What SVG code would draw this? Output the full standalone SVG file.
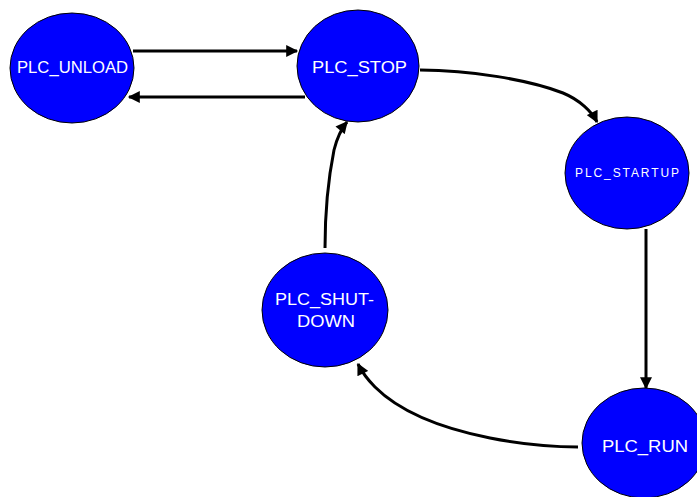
<svg xmlns="http://www.w3.org/2000/svg" width="697" height="497" viewBox="0 0 697 497">
<style>
.n{fill:#0000ff;stroke:#000;stroke-width:1}
.t{fill:#fff;font-family:"Liberation Sans",Arial,sans-serif;font-size:16px;text-anchor:middle}
.e{fill:none;stroke:#000;stroke-width:3;marker-end:url(#ah)}
</style>
<defs>
<marker id="ah" viewBox="0 0 10 10" refX="9" refY="5" markerWidth="4.5" markerHeight="4" markerUnits="strokeWidth" orient="auto">
<path d="M0,0 L10,5 L0,10 z" fill="#000"/>
</marker>
</defs>
<rect width="697" height="497" fill="#fff"/>
<g id="edges">
<path class="e" d="M133,51 L297,51"/>
<path class="e" d="M305,97 L129,97"/>
<path class="e" d="M420,70 C470,70 530,80 563,93 C580,100 592,112 597,122"/>
<path class="e" d="M646,229 L646,388"/>
<path class="e" d="M578,447 C550,447 520,444 490,438 C440,428 400,412 375,387 C368,380 362,372 358,364"/>
<path class="e" d="M325,248 C325,215 328,180 334,150 C337,138 342,128 347,122"/>
</g>
<g id="plc_unload">
<ellipse class="n" cx="72" cy="68" rx="62" ry="55"/>
<text class="t" x="72.5" y="73" textLength="111" lengthAdjust="spacingAndGlyphs">PLC_UNLOAD</text>
</g>
<g id="plc_stop">
<ellipse class="n" cx="358" cy="66" rx="61" ry="56"/>
<text class="t" x="359.5" y="73" textLength="95" lengthAdjust="spacingAndGlyphs">PLC_STOP</text>
</g>
<g id="plc_startup">
<ellipse class="n" cx="627" cy="173" rx="62" ry="56"/>
<text class="t" x="627" y="177" style="font-size:12px" textLength="104">PLC_STARTUP</text>
</g>
<g id="plc_shutdown">
<ellipse class="n" cx="325" cy="310" rx="63" ry="57"/>
<text class="t" x="324.5" y="305" textLength="99" lengthAdjust="spacingAndGlyphs">PLC_SHUT-</text>
<text class="t" x="326" y="327" textLength="58" lengthAdjust="spacingAndGlyphs">DOWN</text>
</g>
<g id="plc_run">
<ellipse class="n" cx="644" cy="443" rx="62" ry="55"/>
<text class="t" x="645" y="452" textLength="86" lengthAdjust="spacingAndGlyphs">PLC_RUN</text>
</g>
</svg>
